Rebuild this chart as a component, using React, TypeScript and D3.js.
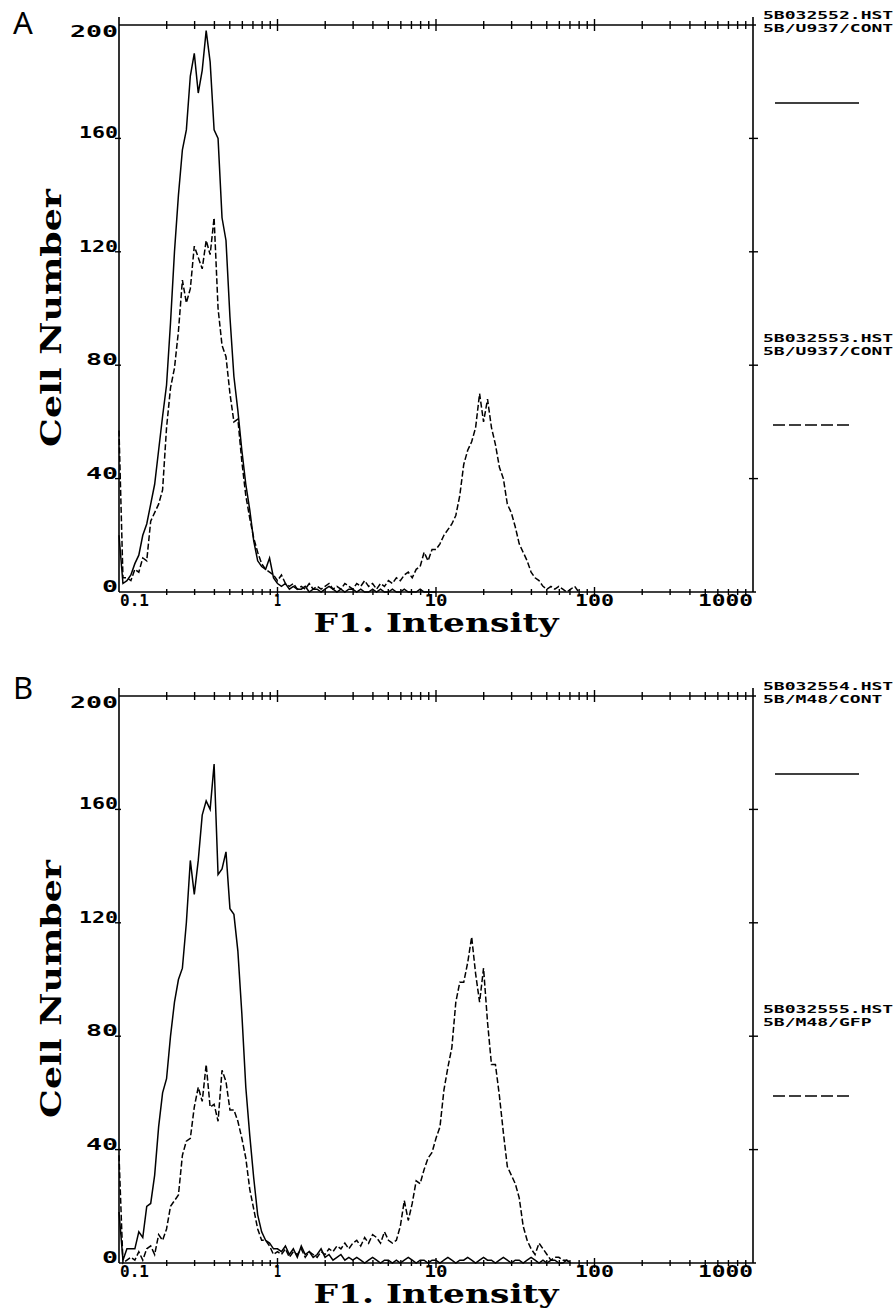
import * as d3 from "d3";

// instrument channels: 40 per decade starting at 0.1
const CHANNELS_PER_DECADE = 40;

const yTicks = [0, 40, 80, 120, 160, 200];
const xTickValues = [0.1, 1, 10, 100, 1000];
const xTickLabels = ["0.1", "1", "10", "100", "1000"];

const panelLetters = ["A", "B"];
const legendSolid = [
  ["5B032552.HST", "5B/U937/CONT"],
  ["5B032554.HST", "5B/M48/CONT"],
];
const legendDashed = [
  ["5B032553.HST", "5B/U937/CONT"],
  ["5B032555.HST", "5B/M48/GFP"],
];

// panel A
const aSolid = [
  20, 3, 4, 6, 10, 13, 20, 24, 31, 38, 50, 62, 73, 95, 120, 140, 156, 163, 182, 190,
  176, 184, 198, 187, 163, 160, 132, 124, 97, 76, 64, 50, 38, 29, 18, 11, 9, 8, 12, 5,
  3, 2, 3, 1, 2, 1, 1, 2, 0, 1, 1, 0, 1, 2, 1, 0, 1, 0, 1, 1,
  0, 1, 0, 0, 1, 0, 1, 0, 0, 1, 0, 0, 1, 0, 0, 0, 1, 0, 0, 0, 0,
];
const aDashed = [
  57, 5, 5, 4, 8, 7, 12, 11, 25, 28, 31, 36, 58, 72, 79, 92, 110, 102, 107, 122,
  118, 114, 124, 119, 132, 100, 87, 83, 70, 60, 61, 46, 34, 26, 19, 14, 10, 8, 7, 6,
  4, 6, 3, 2, 3, 1, 2, 1, 3, 1, 2, 1, 2, 3, 1, 2, 1, 3, 2, 1,
  3, 2, 4, 2, 3, 1, 3, 2, 4, 3, 5, 4, 6, 7, 5, 8, 9, 14, 11, 15,
  15, 17, 20, 22, 24, 27, 34, 45, 50, 53, 58, 70, 60, 68, 58, 52, 44, 40, 31, 28,
  23, 17, 14, 11, 7, 5, 4, 2, 1, 2, 1, 2, 1, 0, 1, 2, 0,
];

// panel B
const bSolid = [
  18, 1, 5, 5, 5, 11, 9, 20, 21, 31, 48, 60, 65, 80, 92, 100, 104, 120, 142, 130,
  142, 158, 163, 160, 176, 137, 139, 145, 125, 123, 110, 88, 62, 45, 30, 17, 11, 8, 7, 5,
  5, 4, 6, 3, 5, 2, 6, 3, 4, 2, 3, 5, 2, 3, 1, 2, 3, 1, 2, 1,
  2, 1, 0, 1, 2, 1, 0, 1, 1, 0, 1, 0, 1, 2, 1, 0, 1, 1, 0, 1,
  1, 0, 1, 2, 1, 0, 1, 1, 2, 1, 0, 1, 2, 1, 1, 0, 1, 2, 1, 0,
  1, 1, 0, 1, 2, 1, 0, 1, 0, 1, 1, 0, 0, 1, 0,
];
const bDashed = [
  38, 0, 1, 2, 1, 4, 1, 5, 6, 3, 10, 8, 12, 20, 22, 24, 38, 43, 44, 55,
  62, 57, 70, 55, 56, 50, 68, 64, 54, 54, 50, 44, 37, 26, 19, 12, 8, 8, 6, 3,
  4, 3, 5, 2, 4, 3, 5, 2, 4, 3, 2, 4, 3, 5, 4, 6, 5, 7, 5, 7,
  8, 6, 9, 7, 10, 9, 7, 11, 8, 7, 8, 13, 22, 15, 21, 29, 28, 33, 37, 39,
  44, 48, 61, 69, 76, 92, 99, 99, 106, 115, 102, 92, 104, 85, 70, 70, 59, 46, 34, 31,
  28, 23, 13, 8, 5, 3, 7, 5, 3, 1, 2, 2, 1, 1, 0,
];

const panels = [
  { solid: aSolid, dashed: aDashed },
  { solid: bSolid, dashed: bDashed },
];

const W = 895;
const H = 1308;
const PANEL_STEP = 671;
const left = 119;
const right = 753;
const top = 25;
const bottom = 592;

const monoFont = "'DejaVu Sans Mono', monospace";
const serifFont = "'DejaVu Serif', serif";

const labelWidth = (s: string) =>
  [...s].reduce((w, c) => w + (c === "1" ? 7 : c === "." ? 6 : 16), 0);

const x = d3.scaleLog().domain([0.1, 1000]).range([left, right]);
const y = d3.scaleLinear().domain([0, 200]).range([bottom, top]);

const channelValue = (i: number) => 0.1 * Math.pow(10, i / CHANNELS_PER_DECADE);

const line = d3
  .line<number>()
  .x((_, i) => x(channelValue(i)))
  .y((d) => y(d));

// minor + decade ticks along the log axis
const logTicks: { v: number; major: boolean }[] = [];
[0.1, 1, 10, 100].forEach((d) => {
  for (let m = 2; m <= 9; m++) logTicks.push({ v: m * d, major: false });
  if (d > 0.1) logTicks.push({ v: d, major: true });
});

function Panel({ idx }: { idx: number }) {
  const { solid, dashed } = panels[idx];
  const legA = legendSolid[idx];
  const legB = legendDashed[idx];
  return (
    <g transform={`translate(0, ${idx * PANEL_STEP})`}>
      <text
        x={13}
        y={idx === 0 ? 34 : 28}
        fontFamily="'Noto Sans', sans-serif"
        fontSize={31}
        fill="#000"
      >
        {panelLetters[idx]}
      </text>

      {/* frame */}
      <g stroke="#000" strokeWidth={1.6} fill="none">
        <line x1={left} x2={right + 3} y1={top} y2={top} />
        <line x1={left} x2={right + 3} y1={bottom} y2={bottom} />
        <line x1={left} x2={left} y1={top - 8} y2={bottom} />
        <line x1={right} x2={right} y1={top - 8} y2={bottom} />
      </g>

      {/* log ticks on top and bottom */}
      <g stroke="#000" strokeWidth={1.4}>
        {logTicks.map((t, i) => (
          <g key={i}>
            <line
              x1={x(t.v)}
              x2={x(t.v)}
              y1={top - (t.major ? 6 : 4)}
              y2={top + (t.major ? 6 : 4)}
            />
            <line
              x1={x(t.v)}
              x2={x(t.v)}
              y1={bottom - (t.major ? 5 : 3)}
              y2={bottom + (t.major ? 5 : 3)}
            />
          </g>
        ))}
        {yTicks.slice(1, -1).map((t) => (
          <g key={t}>
            <line x1={left - 4} x2={left + 2} y1={y(t)} y2={y(t)} />
            <line x1={right - 4} x2={right + 5} y1={y(t)} y2={y(t)} />
          </g>
        ))}
      </g>

      {/* y tick labels */}
      {yTicks.map((t) => (
        <text
          key={t}
          x={left - 1}
          y={Math.max(y(t), top + 12)}
          textAnchor="end"
          fontFamily={monoFont}
          fontWeight="bold"
          fontSize={16}
          textLength={labelWidth(String(t))}
          lengthAdjust="spacingAndGlyphs"
        >
          {t}
        </text>
      ))}

      {/* x tick labels */}
      {xTickValues.map((v, i) => (
        <text
          key={v}
          x={x(v) + (i === 0 ? 1 : 0)}
          y={bottom + 14}
          textAnchor={i === 0 ? "start" : i === xTickValues.length - 1 ? "end" : "middle"}
          fontFamily={monoFont}
          fontWeight="bold"
          fontSize={15}
          textLength={labelWidth(xTickLabels[i])}
          lengthAdjust="spacingAndGlyphs"
        >
          {xTickLabels[i]}
        </text>
      ))}

      {/* axis titles */}
      <text
        x={436}
        y={bottom + 40}
        textAnchor="middle"
        fontFamily={serifFont}
        fontWeight="bold"
        fontSize={26}
        textLength={245}
        lengthAdjust="spacingAndGlyphs"
      >
        F1. Intensity
      </text>
      <text
        transform={`translate(61, 318) rotate(-90)`}
        textAnchor="middle"
        fontFamily={serifFont}
        fontWeight="bold"
        fontSize={27}
        textLength={258}
        lengthAdjust="spacingAndGlyphs"
      >
        Cell Number
      </text>

      {/* histograms */}
      <path d={line(solid) ?? ""} fill="none" stroke="#000" strokeWidth={1.5} />
      <path
        d={line(dashed) ?? ""}
        fill="none"
        stroke="#000"
        strokeWidth={1.5}
        strokeDasharray="6,2.5"
      />

      {/* legend */}
      {[legA, legB].map((lines, k) => (
        <g key={k}>
          {lines.map((s, j) => (
            <text
              key={j}
              x={763}
              y={(k === 0 ? top - 6 : top + 317) + j * 13}
              fontFamily={monoFont}
              fontWeight="bold"
              fontSize={11}
              textLength={s.length * 10.85}
              lengthAdjust="spacingAndGlyphs"
            >
              {s}
            </text>
          ))}
        </g>
      ))}
      <line x1={775} x2={859} y1={top + 78} y2={top + 78} stroke="#000" strokeWidth={1.5} />
      <line
        x1={773}
        x2={852}
        y1={top + 400}
        y2={top + 400}
        stroke="#000"
        strokeWidth={1.5}
        strokeDasharray="12,4"
      />
    </g>
  );
}

export default function App() {
  return (
    <svg
      width={W}
      height={H}
      viewBox={`0 0 ${W} ${H}`}
      style={{ position: "absolute", left: 0, top: 0, background: "#fff" }}
    >
      <rect width={W} height={H} fill="#fff" />
      {panels.map((_, i) => (
        <Panel key={i} idx={i} />
      ))}
    </svg>
  );
}
